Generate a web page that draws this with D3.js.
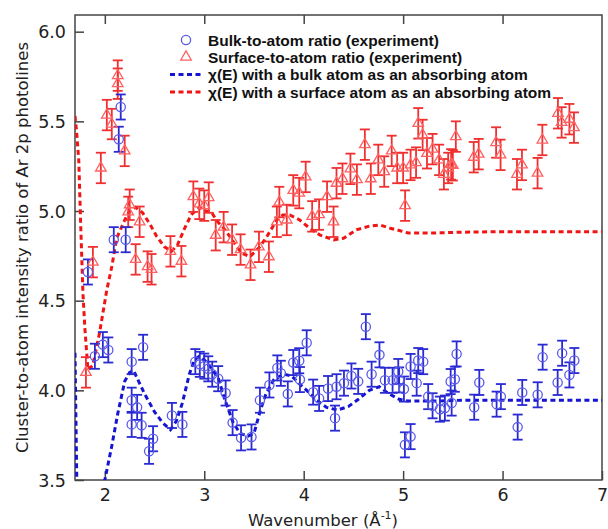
<!DOCTYPE html>
<html><head><meta charset="utf-8">
<script src="https://cdn.jsdelivr.net/npm/d3@7"></script>
<style>body{margin:0;background:#fff}svg{display:block}</style>
</head><body><div id="chart"></div>
<script>
// ---- Data ----
const bulkX = [1.83,1.90,1.98,2.035,2.09,2.14,2.16,2.21,2.27,2.27,2.27,2.325,2.37,2.385,2.445,2.485,2.675,2.78,2.91,2.955,3.0,3.04,3.08,3.14,3.215,3.285,3.37,3.475,3.56,3.655,3.735,3.77,3.84,3.895,3.955,3.962,4.03,4.095,4.155,4.245,4.315,4.33,4.405,4.48,4.548,4.625,4.683,4.762,4.817,4.894,4.951,4.96,5.008,5.018,5.075,5.075,5.136,5.152,5.202,5.252,5.296,5.37,5.42,5.478,5.488,5.52,5.538,5.715,5.766,5.94,5.983,6.152,6.198,6.353,6.403,6.554,6.599,6.672,6.722];
const bulkY = [4.66,4.19,4.255,4.225,4.84,5.40,5.58,4.84,4.16,3.945,3.81,3.905,3.805,4.24,3.66,3.73,3.86,3.81,4.16,4.145,4.135,4.12,4.09,4.065,3.985,3.82,3.735,3.74,3.945,4.03,4.125,4.095,3.98,4.155,4.165,4.06,4.265,3.99,3.955,4.01,3.845,4.02,4.04,4.08,4.05,4.355,4.09,4.198,4.056,4.056,4.105,4.058,4.007,3.696,3.742,4.133,4.04,4.166,4.16,3.965,3.914,3.895,3.901,4.049,3.929,4.062,4.203,3.906,4.044,3.923,3.965,3.795,3.988,3.975,4.185,4.044,4.207,4.086,4.166];
const bulkErr = 0.07;

const surfX = [1.81,1.88,1.96,2.02,2.07,2.13,2.13,2.20,2.235,2.25,2.31,2.35,2.43,2.47,2.66,2.77,2.89,2.95,3.0,3.045,3.115,3.195,3.28,3.365,3.465,3.55,3.65,3.73,3.755,3.83,3.895,3.955,4.02,4.085,4.155,4.235,4.30,4.33,4.39,4.47,4.535,4.615,4.675,4.75,4.81,4.885,4.94,5.0,5.02,5.075,5.13,5.152,5.196,5.24,5.296,5.362,5.41,5.453,5.483,5.50,5.53,5.71,5.76,5.935,5.98,6.145,6.195,6.352,6.40,6.557,6.594,6.672,6.718];
const surfY = [4.10,4.715,5.24,5.535,5.485,5.71,5.755,5.335,4.995,5.035,4.73,4.94,4.69,4.675,4.775,4.72,5.08,5.04,5.03,5.075,4.865,4.91,4.84,4.785,4.70,4.80,4.745,4.94,5.05,4.95,5.115,5.10,5.19,4.97,4.98,5.08,4.94,5.155,5.18,5.235,5.175,5.37,5.18,5.285,5.22,5.335,5.24,5.24,5.03,5.257,5.27,5.489,5.424,5.322,5.345,5.285,5.205,5.24,5.26,5.255,5.415,5.30,5.317,5.382,5.313,5.205,5.257,5.211,5.396,5.545,5.494,5.512,5.465];
const surfErr = 0.085;

const chiBulkX = [1.70,1.718,1.74,1.94,1.95,2.0,2.07,2.13,2.2,2.25,2.29,2.34,2.4,2.5,2.58,2.66,2.72,2.78,2.85,2.9,2.95,3.0,3.06,3.14,3.2,3.29,3.36,3.44,3.5,3.56,3.62,3.7,3.8,3.88,3.95,4.03,4.13,4.23,4.34,4.45,4.55,4.66,4.76,4.86,4.96,5.05,5.3,5.6,6.0,7.0];
const chiBulkY = [4.21,3.5,3.1,3.1,3.36,3.5,3.69,3.87,4.05,4.10,4.11,4.05,3.98,3.88,3.82,3.78,3.83,3.93,4.09,4.17,4.19,4.17,4.13,4.07,3.96,3.82,3.76,3.745,3.76,3.88,3.98,4.06,4.09,4.08,4.04,4.0,3.945,3.905,3.89,3.91,3.95,4.0,4.02,3.98,3.95,3.94,3.94,3.945,3.945,3.945];

const chiSurfX = [1.70,1.715,1.738,1.758,1.78,1.80,1.83,1.88,1.95,2.02,2.07,2.12,2.2,2.25,2.31,2.38,2.45,2.52,2.6,2.67,2.73,2.8,2.87,2.95,3.02,3.07,3.12,3.21,3.29,3.375,3.46,3.56,3.64,3.73,3.79,3.86,3.96,4.06,4.16,4.30,4.40,4.53,4.67,4.77,4.87,4.97,5.05,5.3,5.6,6.0,6.5,7.0];
const chiSurfY = [5.53,5.45,5.28,4.91,4.54,4.34,4.115,4.14,4.33,4.56,4.69,4.85,4.95,5.0,5.02,4.99,4.93,4.86,4.80,4.775,4.81,4.90,4.98,5.02,5.0,4.997,4.95,4.895,4.83,4.765,4.746,4.80,4.867,4.95,4.978,4.978,4.95,4.904,4.867,4.839,4.848,4.895,4.917,4.922,4.904,4.89,4.877,4.877,4.882,4.885,4.885,4.885];

const xTicks = [2,3,4,5,6,7];
const yTicks = [3.5,4.0,4.5,5.0,5.5,6.0];

const legendLabels = ["Bulk-to-atom ratio (experiment)","Surface-to-atom ratio (experiment)","χ(E) with a bulk atom as an absorbing atom","χ(E) with a surface atom as an absorbing atom"];

// ---- Layout ----
const W = 608, H = 529;
const m = {left:75, right:6, top:15, bottom:49};
const blueLine = "#1414d2", redLine = "#f01414";
const blueBar = "#2a2ad2", redBar = "#f03030";
const blueMark = "#5a5aea", redMark = "#ff6060";

const svg = d3.select("#chart").append("svg").attr("width",W).attr("height",H);
const x = d3.scaleLinear().domain([1.7,7]).range([m.left, W-m.right]);
const y = d3.scaleLinear().domain([3.5,6.093]).range([H-m.bottom, m.top]);

svg.append("clipPath").attr("id","clip").append("rect")
  .attr("x",m.left).attr("y",m.top).attr("width",W-m.left-m.right).attr("height",H-m.top-m.bottom);

const fontAx = "'DejaVu Sans', Verdana, sans-serif";

// axes
const gx = svg.append("g").attr("transform",`translate(0,${H-m.bottom})`)
  .call(d3.axisBottom(x).tickValues(xTicks).tickFormat(d3.format("d")).tickSizeInner(-9).tickSizeOuter(0).tickPadding(7));
const gxt = svg.append("g").attr("transform",`translate(0,${m.top})`)
  .call(d3.axisTop(x).tickValues(xTicks.filter(d=>d<7)).tickSizeInner(-9).tickSizeOuter(0).tickFormat(""));
const gy = svg.append("g").attr("transform",`translate(${m.left},0)`)
  .call(d3.axisLeft(y).tickValues(yTicks).tickFormat(d3.format(".1f")).tickSizeInner(-9).tickSizeOuter(0).tickPadding(9));
[gx,gxt,gy].forEach(g=>{
  g.select(".domain").remove();
  g.selectAll(".tick line").attr("stroke","#444").attr("stroke-width",1.5);
  g.selectAll("text").attr("fill","#222").style("font-family",fontAx).style("font-size","17.5px");
});
gy.selectAll("text").attr("dy","0.36em");
gx.selectAll("text").attr("y",9).attr("dy","0.71em");

// frame
svg.append("rect").attr("x",m.left).attr("y",m.top).attr("width",W-m.left-m.right).attr("height",H-m.top-m.bottom)
  .attr("fill","none").attr("stroke","#444").attr("stroke-width",1.5);

const plot = svg.append("g").attr("clip-path","url(#clip)");

// theory curves
const line = d3.line().x(d=>x(d[0])).y(d=>y(d[1]));
plot.append("path").datum(chiBulkX.map((v,i)=>[v,chiBulkY[i]]))
  .attr("d",line).attr("fill","none").attr("stroke",blueLine).attr("stroke-width",3).attr("stroke-dasharray","5,3.5");
plot.append("path").datum(chiSurfX.map((v,i)=>[v,chiSurfY[i]]))
  .attr("d",line).attr("fill","none").attr("stroke",redLine).attr("stroke-width",3).attr("stroke-dasharray","5,3.5");

function errBars(xs, ys, err, color){
  const g = plot.append("g").attr("stroke",color).attr("stroke-width",1.8).attr("fill","none");
  xs.forEach((v,i)=>{
    const cx = x(v), y1 = y(ys[i]-err), y2 = y(ys[i]+err);
    g.append("line").attr("x1",cx).attr("x2",cx).attr("y1",y1).attr("y2",y2);
    g.append("line").attr("x1",cx-5).attr("x2",cx+5).attr("y1",y1).attr("y2",y1);
    g.append("line").attr("x1",cx-5).attr("x2",cx+5).attr("y1",y2).attr("y2",y2);
  });
}
errBars(surfX, surfY, surfErr, redBar);
errBars(bulkX, bulkY, bulkErr, blueBar);

const tri = d3.symbol().type(d3.symbolTriangle).size(48);
plot.append("g").selectAll("path").data(surfX.map((v,i)=>[v,surfY[i]])).join("path")
  .attr("d",tri).attr("transform",d=>`translate(${x(d[0])},${y(d[1])})`)
  .attr("fill","none").attr("stroke",redMark).attr("stroke-width",1.3);
plot.append("g").selectAll("circle").data(bulkX.map((v,i)=>[v,bulkY[i]])).join("circle")
  .attr("cx",d=>x(d[0])).attr("cy",d=>y(d[1])).attr("r",4.6)
  .attr("fill","none").attr("stroke",blueMark).attr("stroke-width",1.3);

// legend
const lg = svg.append("g");
const rows = [40,57,74.5,92];
lg.append("circle").attr("cx",186).attr("cy",rows[0]).attr("r",4.6).attr("fill","none").attr("stroke",blueMark).attr("stroke-width",1.3);
lg.append("path").attr("d",tri).attr("transform",`translate(186,${rows[1]})`).attr("fill","none").attr("stroke",redMark).attr("stroke-width",1.3);
lg.append("line").attr("x1",170).attr("x2",201).attr("y1",rows[2]).attr("y2",rows[2]).attr("stroke",blueLine).attr("stroke-width",3).attr("stroke-dasharray","5,3.5");
lg.append("line").attr("x1",170).attr("x2",201).attr("y1",rows[3]).attr("y2",rows[3]).attr("stroke",redLine).attr("stroke-width",3).attr("stroke-dasharray","5,3.5");
legendLabels.forEach((t,i)=>{
  lg.append("text").attr("x",208).attr("y",rows[i]+5.5).text(t)
    .style("font-family","'Liberation Sans', Arial, sans-serif").style("font-weight","bold").style("font-size","15.5px").attr("fill","#111");
});

// axis titles
const xt = svg.append("text").attr("x",323).attr("y",526).attr("text-anchor","middle")
  .style("font-family",fontAx).style("font-size","16.5px").attr("fill","#222");
xt.append("tspan").text("Wavenumber (Å");
xt.append("tspan").attr("dy",-7).style("font-size","11px").text("-1");
xt.append("tspan").attr("dy",7).text(")");

svg.append("text").attr("transform",`translate(28,${(m.top+H-m.bottom)/2}) rotate(-90)`).attr("text-anchor","middle")
  .style("font-family",fontAx).style("font-size","16.5px").attr("fill","#222")
  .text("Cluster-to-atom intensity ratio of Ar 2p photolines");
</script></body></html>
